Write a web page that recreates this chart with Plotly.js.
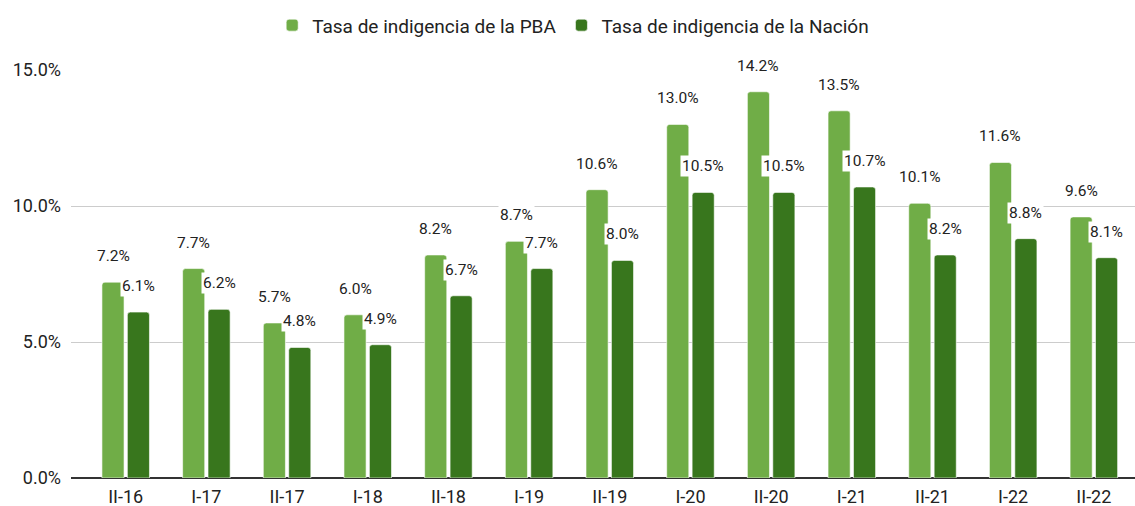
<!DOCTYPE html>
<html>
<head>
<meta charset="utf-8">
<script src="https://cdn.plot.ly/plotly-3.0.1.min.js"></script>
<style>html,body{margin:0;padding:0;background:#fff;}#chart{width:1135px;height:506px;}</style>
</head>
<body>
<div id="chart"></div>
<script>
const categories = ["II-16","I-17","II-17","I-18","II-18","I-19","II-19","I-20","II-20","I-21","II-21","I-22","II-22"];
const pba = [7.2,7.7,5.7,6.0,8.2,8.7,10.6,13.0,14.2,13.5,10.1,11.6,9.6];
const nacion = [6.1,6.2,4.8,4.9,6.7,7.7,8.0,10.5,10.5,10.7,8.2,8.8,8.1];
const seriesNames = ["Tasa de indigencia de la PBA","Tasa de indigencia de la Nación"];
const yTicks = [0, 5, 10, 15];
const colors = ["#70ad47","#38761d"];

const FONT = "Roboto, 'Open Sans', sans-serif";
const traces = [pba, nacion].map((vals, k) => ({
  type: "bar",
  name: seriesNames[k],
  x: categories,
  y: vals,
  marker: {color: colors[k], line: {color: "#ffffff", width: 0.6}},
  hoverinfo: "skip"
}));

const annotations = [];
[pba, nacion].forEach((vals, k) => {
  vals.forEach((v, i) => {
    annotations.push({
      xref: "x", yref: "y",
      x: i, y: v,
      xshift: k === 0 ? -12.7 : 12.7,
      yshift: 26,
      text: v.toFixed(1) + "%",
      showarrow: false,
      bgcolor: "#ffffff",
      borderpad: 1,
      font: {family: FONT, size: 15.5, color: "#222222"},
      xanchor: "center", yanchor: "middle"
    });
  });
});

const layout = {
  width: 1135, height: 506,
  margin: {l: 71, r: 0, t: 70, b: 28},
  paper_bgcolor: "#ffffff", plot_bgcolor: "#ffffff",
  barmode: "group",
  bargap: 0.37,
  bargroupgap: 0.13,
  barcornerradius: 3,
  font: {family: FONT, color: "#222222"},
  showlegend: true,
  legend: {
    orientation: "h",
    xref: "container", yref: "container",
    x: 0.505, xanchor: "center",
    y: 0.95, yanchor: "middle",
    font: {family: FONT, size: 19, color: "#222222"},
    itemclick: false
  },
  xaxis: {
    type: "category",
    range: [-0.678, 12.51],
    showgrid: false,
    showline: false,
    zeroline: false,
    ticks: "",
    ticklabelstandoff: 6,
    tickfont: {family: FONT, size: 18, color: "#222222"},
    fixedrange: true
  },
  yaxis: {
    range: [0, 15],
    tickmode: "array",
    tickvals: yTicks,
    ticktext: yTicks.map(v => v.toFixed(1) + "%"),
    showgrid: true,
    gridcolor: "#cccccc",
    gridwidth: 1,
    zeroline: true,
    zerolinecolor: "#333333",
    zerolinewidth: 1.5,
    showline: false,
    ticks: "",
    ticklabelstandoff: 9,
    tickfont: {family: FONT, size: 18, color: "#222222"},
    fixedrange: true
  },
  annotations: annotations
};

Plotly.newPlot("chart", traces, layout, {displayModeBar: false, staticPlot: true});
</script>
</body>
</html>
